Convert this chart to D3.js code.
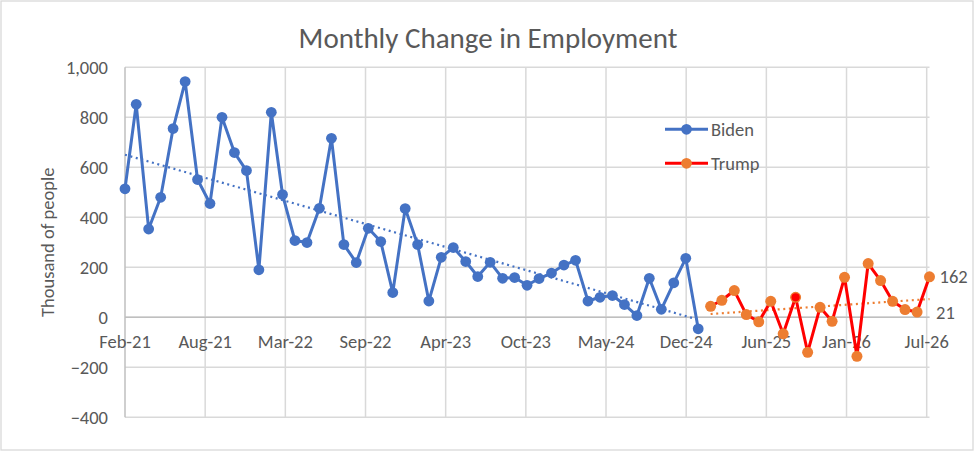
<!DOCTYPE html>
<html>
<head>
<meta charset="utf-8">
<script src="https://cdn.jsdelivr.net/npm/d3@7"></script>
<style>
  body { margin: 0; background: #fff; }
  text { font-family: Carlito, Calibri, Lato, sans-serif; fill: #595959; }
</style>
</head>
<body>
<svg id="chart" width="975" height="452"></svg>
<script>
// monthly change, thousands of people
var bidenStart = new Date(2021, 1, 1);   // Feb-21
var bidenValues = [514, 852, 353, 480, 755, 943, 551, 455, 800, 659,
  587, 190, 820, 491, 307, 299, 436, 716, 291, 219,
  356, 303, 99, 435, 291, 65, 240, 279, 223, 163,
  220, 156, 159, 128, 155, 177, 209, 228, 65, 80,
  87, 51, 7, 156, 32, 138, 236, -46];

var trumpStart = new Date(2025, 1, 1);   // Feb-25
var trumpValues = [44, 68, 107, 11, -18, 64, -66, 80, -140, 40,
  -16, 160, -156, 215, 147, 64, 31, 21, 162];
var trumpRedMarker = 7; // Sep-25 point drawn with red fill

var yTicks = [-400, -200, 0, 200, 400, 600, 800, 1000];
var xTickStepDays = 200;
var xTickCount = 10;
var endLabels = [{ idx: 17, text: "21", dx: 19 }, { idx: 18, text: "162", dx: 10 }];

var svg = d3.select("#chart");

var toPoints = function (start, values) {
  return values.map(function (v, i) {
    return { date: d3.timeMonth.offset(start, i), value: v };
  });
};
var biden = toPoints(bidenStart, bidenValues);
var trump = toPoints(trumpStart, trumpValues);

var x = d3.scaleTime()
  .domain([bidenStart, new Date(2026, 7, 1)])
  .range([125, 929.5]);
var y = d3.scaleLinear()
  .domain([-400, 1000])
  .range([417.3, 67.3]);

var xTicks = d3.range(xTickCount + 1).map(function (i) {
  return d3.timeDay.offset(bidenStart, i * xTickStepDays);
});

// chart area border
svg.append("rect")
  .attr("x", 1).attr("y", 1)
  .attr("width", 972).attr("height", 449)
  .attr("fill", "#fff")
  .attr("stroke", "#d9d9d9")
  .attr("stroke-width", 1.3);

// gridlines
var grid = svg.append("g")
  .attr("stroke", "#d9d9d9")
  .attr("stroke-width", 1.5);
grid.selectAll(".hg")
  .data(yTicks)
  .enter()
  .append("line")
  .attr("x1", x.range()[0]).attr("x2", x.range()[1])
  .attr("y1", function (d) { return y(d); })
  .attr("y2", function (d) { return y(d); });
grid.selectAll(".vg")
  .data(xTicks.slice(1))
  .enter()
  .append("line")
  .attr("x1", function (d) { return x(d); })
  .attr("x2", function (d) { return x(d); })
  .attr("y1", y(1000)).attr("y2", y(-400));

// axis lines
svg.append("line")
  .attr("x1", x.range()[0]).attr("x2", x.range()[1])
  .attr("y1", y(0)).attr("y2", y(0))
  .attr("stroke", "#bfbfbf").attr("stroke-width", 1.5);
svg.append("line")
  .attr("x1", x.range()[0]).attr("x2", x.range()[0])
  .attr("y1", y(1000)).attr("y2", y(-400))
  .attr("stroke", "#bfbfbf").attr("stroke-width", 1.5);

// tick labels
var fmtY = d3.format(",");
svg.selectAll(".ylab")
  .data(yTicks)
  .enter()
  .append("text")
  .attr("x", 108)
  .attr("y", function (d) { return y(d); })
  .attr("dy", "0.35em")
  .attr("text-anchor", "end")
  .attr("font-size", "18.5px")
  .text(function (d) { return fmtY(d); });

var fmtX = d3.timeFormat("%b-%y");
svg.selectAll(".xlab")
  .data(xTicks)
  .enter()
  .append("text")
  .attr("x", function (d) { return x(d); })
  .attr("y", y(0) + 31)
  .attr("text-anchor", "middle")
  .attr("font-size", "18.5px")
  .text(function (d) { return fmtX(d); });

// titles
svg.append("text")
  .attr("x", 488)
  .attr("y", 48)
  .attr("text-anchor", "middle")
  .attr("font-size", "29px")
  .text("Monthly Change in Employment");

svg.append("text")
  .attr("transform", "translate(54," + y(300) + ") rotate(-90)")
  .attr("text-anchor", "middle")
  .attr("font-size", "18.5px")
  .text("Thousand of people");

// linear trend on date values, as the spreadsheet does it
function trend(points) {
  var xs = points.map(function (p) { return +p.date; });
  var ys = points.map(function (p) { return p.value; });
  var mx = d3.mean(xs), my = d3.mean(ys);
  var num = d3.sum(xs, function (v, i) { return (v - mx) * (ys[i] - my); });
  var den = d3.sum(xs, function (v) { return (v - mx) * (v - mx); });
  var b = num / den, a = my - b * mx;
  var first = points[0].date, last = points[points.length - 1].date;
  return [
    { date: first, value: a + b * (+first) },
    { date: last, value: a + b * (+last) }
  ];
}

var line = d3.line()
  .x(function (d) { return x(d.date); })
  .y(function (d) { return y(d.value); });

svg.append("path")
  .datum(trend(biden))
  .attr("d", line)
  .attr("fill", "none")
  .attr("stroke", "#4472C4")
  .attr("stroke-width", 2.2)
  .attr("stroke-dasharray", "2,3.6");

svg.append("path")
  .datum(trend(trump))
  .attr("d", line)
  .attr("fill", "none")
  .attr("stroke", "#ED7D31")
  .attr("stroke-width", 2.2)
  .attr("stroke-dasharray", "2,3.6");

// series lines and markers
svg.append("path")
  .datum(biden)
  .attr("d", line)
  .attr("fill", "none")
  .attr("stroke", "#4472C4")
  .attr("stroke-width", 3)
  .attr("stroke-linejoin", "round");

svg.append("g").selectAll("circle")
  .data(biden)
  .enter()
  .append("circle")
  .attr("cx", function (d) { return x(d.date); })
  .attr("cy", function (d) { return y(d.value); })
  .attr("r", 5.4)
  .attr("fill", "#4472C4");

svg.append("path")
  .datum(trump)
  .attr("d", line)
  .attr("fill", "none")
  .attr("stroke", "#FF0000")
  .attr("stroke-width", 3)
  .attr("stroke-linejoin", "round");

svg.append("g").selectAll("circle")
  .data(trump)
  .enter()
  .append("circle")
  .attr("cx", function (d) { return x(d.date); })
  .attr("cy", function (d) { return y(d.value); })
  .attr("r", function (d, i) { return i === trumpRedMarker ? 4.8 : 5.5; })
  .attr("fill", function (d, i) { return i === trumpRedMarker ? "#FF0000" : "#ED7D31"; })
  .attr("stroke", function (d, i) { return i === trumpRedMarker ? "#ED7D31" : "none"; })
  .attr("stroke-width", 1.4);

// data labels on the last two points
svg.selectAll(".endlab")
  .data(endLabels)
  .enter()
  .append("text")
  .attr("x", function (d) { return x(trump[d.idx].date) + d.dx; })
  .attr("y", function (d) { return y(trump[d.idx].value); })
  .attr("dy", "0.35em")
  .attr("font-size", "18.5px")
  .attr("fill", "#404040")
  .text(function (d) { return d.text; });

// legend
var legend = [
  { name: "Biden", line: "#4472C4", marker: "#4472C4", y: 129.3 },
  { name: "Trump", line: "#FF0000", marker: "#ED7D31", y: 163.3 }
];
var lg = svg.append("g").selectAll("g")
  .data(legend)
  .enter()
  .append("g")
  .attr("transform", function (d) { return "translate(0," + d.y + ")"; });
lg.append("line")
  .attr("x1", 665).attr("x2", 708)
  .attr("stroke", function (d) { return d.line; })
  .attr("stroke-width", 3);
lg.append("circle")
  .attr("cx", 686.5)
  .attr("r", 5.4)
  .attr("fill", function (d) { return d.marker; });
lg.append("text")
  .attr("x", 711)
  .attr("dy", "0.35em")
  .attr("font-size", "18.5px")
  .text(function (d) { return d.name; });
</script>
</body>
</html>
